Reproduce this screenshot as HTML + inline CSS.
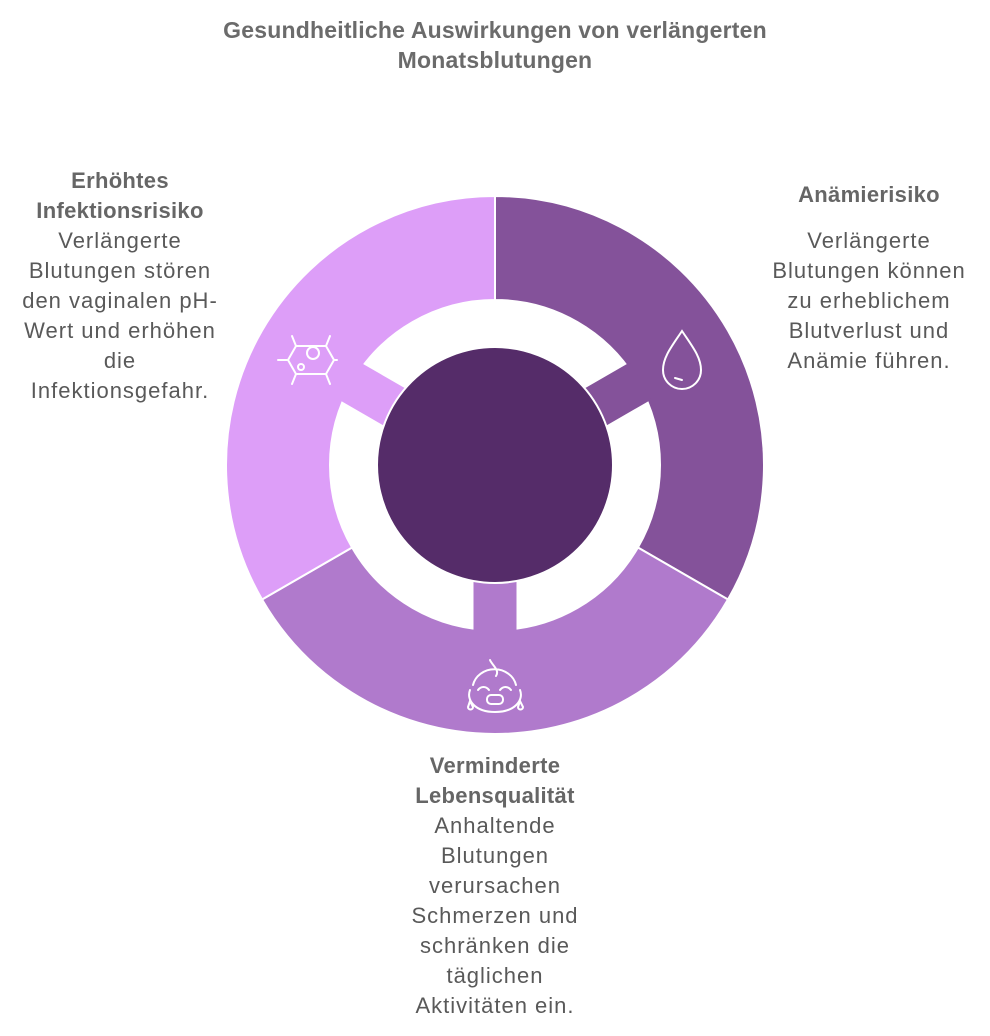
<!DOCTYPE html>
<html><head><meta charset="utf-8"><style>
body{margin:0;width:990px;height:1036px;background:#fff;position:relative;overflow:hidden;font-family:"Liberation Sans",sans-serif;}
.t{position:absolute;text-align:center;font-size:22px;line-height:30px;color:#595959;letter-spacing:1px;}
.b{font-weight:bold;color:#666;letter-spacing:0.3px;}
</style></head><body>
<div class="t b" style="left:0;width:990px;top:15px;color:#6b6b6b;font-size:23px;letter-spacing:0.2px">Gesundheitliche Auswirkungen von verlängerten<br>Monatsblutungen</div>
<svg width="990" height="1036" style="position:absolute;left:0;top:0">
<g stroke="#fff" stroke-width="2">
<path d="M495,196 A269,269 0 0 1 727.96,599.5 L637.9,547.5 A165,165 0 0 0 495,300 Z" fill="#84529a"/>
<path d="M727.96,599.5 A269,269 0 0 1 262.04,599.5 L352.1,547.5 A165,165 0 0 0 637.9,547.5 Z" fill="#b07acc"/>
<path d="M262.04,599.5 A269,269 0 0 1 495,196 L495,300 A165,165 0 0 0 352.1,547.5 Z" fill="#dd9ef8"/>
</g>
<g transform="translate(495,465)">
<rect x="-21.5" y="-168" width="43" height="60" fill="#84529a" transform="rotate(60)"/>
<rect x="-21.5" y="-168" width="43" height="60" fill="#b07acc" transform="rotate(180)"/>
<rect x="-21.5" y="-168" width="43" height="60" fill="#dd9ef8" transform="rotate(300)"/>
<circle r="118" fill="#552c69" stroke="#fff" stroke-width="2"/>
</g>
<g fill="none" stroke="#fff" stroke-width="2" stroke-linecap="round">
<path d="M682,331 C672,346 663,357 663,370 A19,19 0 0 0 701,370 C701,357 692,346 682,331 Z"/>
<path d="M675,378 L682,380"/>
<path d="M296,346 L326,346 L334,360 L326,374 L296,374 L288,360 Z"/>
<circle cx="313" cy="353" r="6"/><circle cx="301" cy="367" r="3"/>
<path d="M278,360 L288,360 M334,360 L337,360 M292,336 L296,346 M330,336 L326,346 M292,384 L296,374 M330,384 L326,374"/>
<path d="M473,685 A22,20 0 0 1 516,685 M490,660 C492,665 500,670 496,676 M478,690 C481,686 486,686 489,690 M500,690 C503,686 508,686 511,690"/>
<path d="M470,690 C466,700 475,712 495,712 C515,712 524,700 520,690"/>
<rect x="487" y="695" width="16" height="9" rx="4"/>
<path d="M470,701 L468,707 A2.5,2.5 0 0 0 473,707 Z M520,701 L518,707 A2.5,2.5 0 0 0 523,707 Z"/>
</g>
</svg>
<div class="t" style="left:0;width:240px;top:166px"><span class="b">Erhöhtes<br>Infektionsrisiko</span><br>Verlängerte<br>Blutungen stören<br>den vaginalen pH-<br>Wert und erhöhen<br>die<br>Infektionsgefahr.</div>
<div class="t" style="left:754px;width:230px;top:180px"><span class="b">Anämierisiko</span><br><div style="height:16px"></div>Verlängerte<br>Blutungen können<br>zu erheblichem<br>Blutverlust und<br>Anämie führen.</div>
<div class="t" style="left:375px;width:240px;top:751px"><span class="b">Verminderte<br>Lebensqualität</span><br>Anhaltende<br>Blutungen<br>verursachen<br>Schmerzen und<br>schränken die<br>täglichen<br>Aktivitäten ein.</div>
</body></html>
